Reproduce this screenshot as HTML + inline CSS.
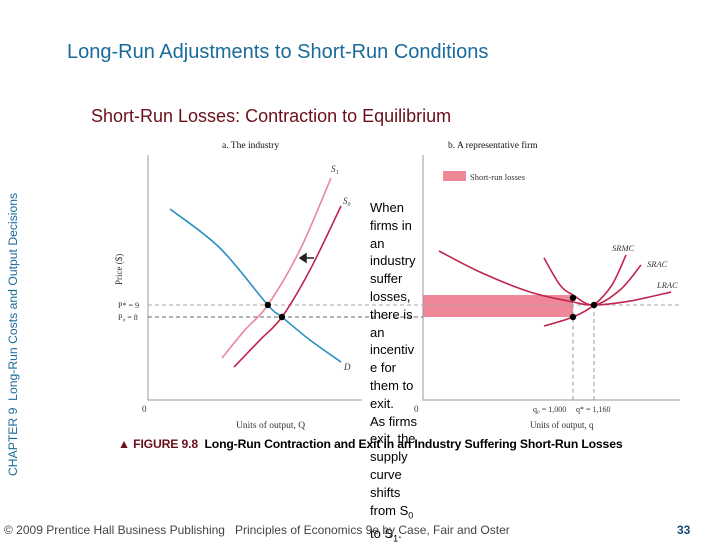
<!DOCTYPE html>
<html><head><meta charset="utf-8"><style>
html,body{margin:0;padding:0;background:#fff;}
body{width:720px;height:540px;position:relative;overflow:hidden;font-family:"Liberation Sans",sans-serif;}
.abs{position:absolute;white-space:nowrap;}
#txt{position:absolute;left:370px;top:199px;width:60px;font-size:13px;line-height:17.8px;color:#000;white-space:nowrap;}
</style></head><body>
<div class="abs" style="left:67px;top:41px;font-size:20px;color:#1a6a9a;">Long-Run Adjustments to Short-Run Conditions</div>
<div class="abs" style="left:91px;top:106px;font-size:18px;color:#6b0f1a;">Short-Run Losses: Contraction to Equilibrium</div>
<div class="abs" style="left:6px;top:476px;font-size:12.2px;color:#1a6a9a;transform:rotate(-90deg);transform-origin:0 0;">CHAPTER 9&nbsp; Long-Run Costs and Output Decisions</div>

<svg id="chart" width="720" height="540" style="position:absolute;left:0;top:0" font-family="Liberation Serif, serif"></svg>

<div id="txt">When<br>firms in<br>an<br>industry<br>suffer<br>losses,<br>there is<br>an<br>incentiv<br>e for<br>them to<br>exit.<br>As firms<br>exit, the<br>supply<br>curve<br>shifts<br>from S<sub style="font-size:9px">0</sub><br>to S<sub style="font-size:9px">1</sub>.</div>

<div class="abs" style="left:118px;top:437px;font-size:12.2px;font-weight:bold;letter-spacing:-0.15px;"><span style="color:#6b0f1a">&#9650; FIGURE 9.8</span>&nbsp; Long-Run Contraction and Exit in an Industry Suffering Short-Run Losses</div>
<div class="abs" style="left:4px;top:523px;font-size:12px;color:#444;">© 2009 Prentice Hall Business Publishing &nbsp; Principles of Economics 9e by Case, Fair and Oster</div>
<div class="abs" style="left:677px;top:523px;font-size:12px;font-weight:bold;color:#1a4a7a;">33</div>

<script>
// Panel a (industry) data
const dQ=[10.3,33.6,56,62.6,75.7,90.2];
const dP=[17,13.75,9,8,6.08,4.25];
const s1Q=[34.6,45.3,56,71,85.5];
const s1P=[4.58,6.92,9,13.58,19.58];
const s0Q=[40.2,52.3,62.6,75.7,90.2];
const s0P=[3.83,6.08,8,11.92,17.25];
const eqQ=[56,62.6];
const eqP=[9,8];
// Panel b (firm) data
const lracQ=[-21,291,672,1000,1160,1434,1747];
const lracP=[13.5,11.75,10.08,9.25,9,9.33,10.08];
const sracQ=[779,901,1000,1160,1358,1518];
const sracP=[12.92,10.67,9.83,9,10.25,12.33];
const srmcQ=[779,1000,1160,1297,1404];
const srmcP=[7.25,8,9,10.67,13.17];
const firmPtQ=[1000,1160,1000];
const firmPtP=[9.6,9,8];
const priceTicks=["P* = 9","P\u2080 = 8"];
const priceVals=[9,8];
const qTicks=["q\u2080 = 1,000","q* = 1,160"];
const qVals=[1000,1160];

const yP=p=>305-(p-9)*12;
const xA=q=>148+q*2.14;
const xB=q=>573+(q-1000)*0.13125;
const svg=document.getElementById('chart');
const NS='http://www.w3.org/2000/svg';
function mk(tag,attrs,name){const e=document.createElementNS(NS,tag);for(const k in attrs)e.setAttribute(k,attrs[k]);


svg.appendChild(e);return e;}
function smooth(xs,ys){let d='M'+xs[0]+','+ys[0];for(let i=0;i<xs.length-1;i++){const x0=xs[Math.max(i-1,0)],y0=ys[Math.max(i-1,0)],x1=xs[i],y1=ys[i],x2=xs[i+1],y2=ys[i+1],x3=xs[Math.min(i+2,xs.length-1)],y3=ys[Math.min(i+2,xs.length-1)];
d+=' C'+(x1+(x2-x0)/6)+','+(y1+(y2-y0)/6)+' '+(x2-(x3-x1)/6)+','+(y2-(y3-y1)/6)+' '+x2+','+y2;}return d;}
function curve(qs,ps,xf,color,name){mk('path',{d:smooth(qs.map(xf),ps.map(yP)),fill:'none',stroke:color,'stroke-width':1.6},name);}
function text(x,y,s,name,extra){const t=mk('text',Object.assign({x:x,y:y,'font-size':9,fill:'#333'},extra||{}),name);t.textContent=s;return t;}

mk('rect',{x:423,y:yP(9.83),width:xB(1000)-423,height:yP(8)-yP(9.83),fill:'#ee8797'},'short-run-losses-area');
mk('rect',{x:443,y:171,width:23,height:10,fill:'#ee8797'},'legend-swatch');
text(470,180,'Short-run losses','legend-label',{'font-size':8.5});

mk('path',{d:'M148,155 V400 H362',fill:'none',stroke:'#999','stroke-width':1},'industry-axes');
mk('path',{d:'M423,155 V400 H680',fill:'none',stroke:'#999','stroke-width':1},'firm-axes');
text(222,148,'a. The industry','industry-title',{'font-size':9.5,fill:'#111'});
text(448,148,'b. A representative firm','firm-title',{'font-size':9.5,fill:'#111'});
text(142,412,'0','industry-origin');text(414,412,'0','firm-origin');
text(236,428,'Units of output, Q','industry-x-axis-title',{'font-size':9.5});
text(530,428,'Units of output, q','firm-x-axis-title',{'font-size':9});
text(0,0,'Price ($)','y-axis-title',{'font-size':9,transform:'translate(122,285) rotate(-90)'});

priceVals.forEach((p,i)=>{mk('line',{x1:148,x2:423,y1:yP(p),y2:yP(p),stroke:i?'#666':'#aaa','stroke-dasharray':'4,3','stroke-width':1},'price-line-'+i);
text(118,yP(p)+3,priceTicks[i],'price-tick-'+i,{'font-size':8});});
mk('line',{x1:423,x2:680,y1:yP(9),y2:yP(9),stroke:'#aaa','stroke-dasharray':'4,3'},'firm-price-line');
qVals.forEach((q,i)=>{mk('line',{x1:xB(q),x2:xB(q),y1:yP(firmPtP[i]),y2:400,stroke:'#999','stroke-dasharray':'4,3'},'q-line-'+i);
text(xB(q)-(i?18:40),412,qTicks[i],'q-tick-'+i,{'font-size':8});});

curve(dQ,dP,xA,'#2a8fc0','demand-curve');
curve(s1Q,s1P,xA,'#e8889a','supply-s1-curve');
curve(s0Q,s0P,xA,'#c0244e','supply-s0-curve');
text(331,172,'S\u2081','s1-label',{'font-style':'italic'});
text(343,204,'S\u2080','s0-label',{'font-style':'italic'});
text(344,370,'D','d-label',{'font-style':'italic'});
mk('path',{d:'M314,258 H302 M306,254 L300,258 L306,262 Z',stroke:'#222',fill:'#222','stroke-width':1.5},'shift-arrow');
eqQ.forEach((q,i)=>mk('circle',{cx:xA(q),cy:yP(eqP[i]),r:3.2,fill:'#000'},'industry-equilibrium-'+i));

curve(lracQ,lracP,xB,'#c0244e','lrac-curve');
curve(sracQ,sracP,xB,'#c0244e','srac-curve');
curve(srmcQ,srmcP,xB,'#c0244e','srmc-curve');
text(612,251,'SRMC','srmc-label',{'font-style':'italic','font-size':8.5});
text(647,267,'SRAC','srac-label',{'font-style':'italic','font-size':8.5});
text(657,288,'LRAC','lrac-label',{'font-style':'italic','font-size':8.5});
firmPtQ.forEach((q,i)=>mk('circle',{cx:xB(q),cy:yP(firmPtP[i]),r:3.2,fill:'#000'},'firm-point-'+i));
</script>
</body></html>
